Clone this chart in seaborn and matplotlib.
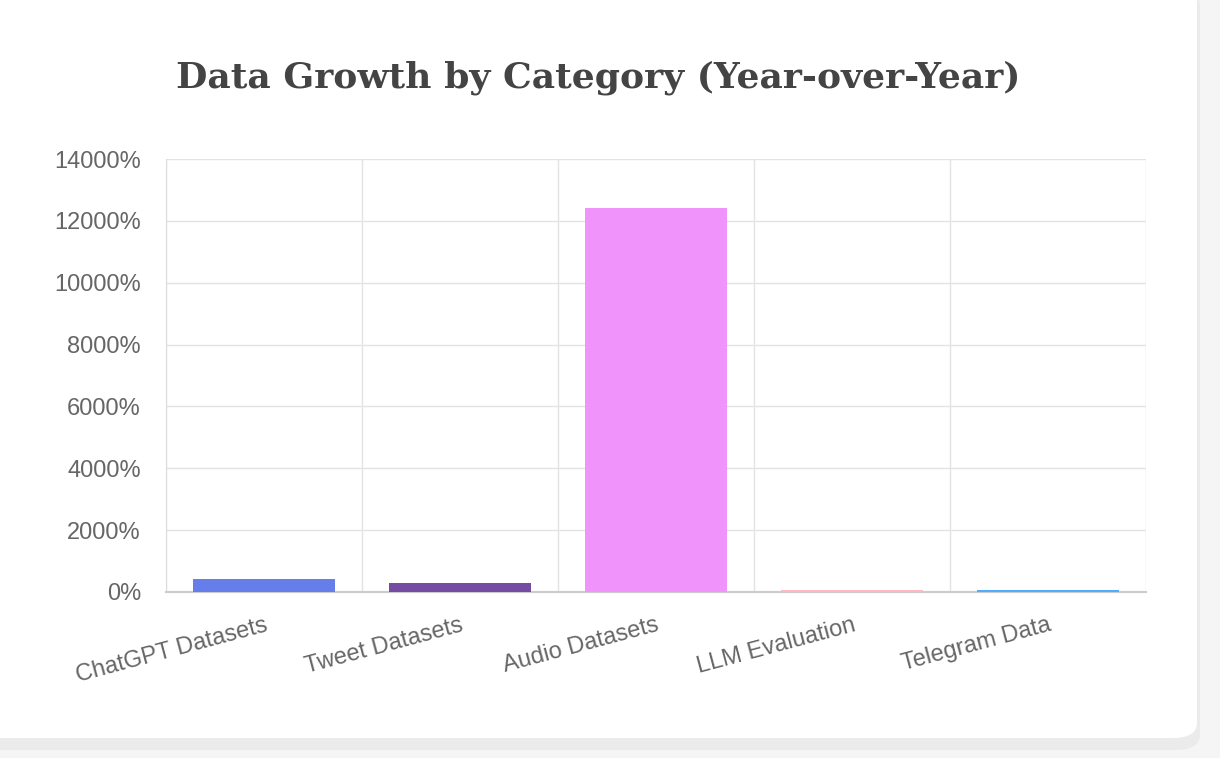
import numpy as np
import pandas as pd
import seaborn as sns
import matplotlib.pyplot as plt
from matplotlib.patches import FancyBboxPatch
from matplotlib.ticker import FuncFormatter, FixedLocator

# Data
categories = ['ChatGPT Datasets', 'Tweet Datasets', 'Audio Datasets', 'LLM Evaluation', 'Telegram Data']
growth = [420, 280, 12400, 75, 70]
colors = ['#667eea', '#764ba2', '#f093fb', '#ffb8c0', '#4facfe']
y_ticks = [0, 2000, 4000, 6000, 8000, 10000, 12000, 14000]

df = pd.DataFrame({'category': categories, 'growth': growth})

sns.set_style("white")
plt.rcParams['font.family'] = ['Liberation Sans', 'DejaVu Sans']

fig = plt.figure(figsize=(12.2, 7.58), dpi=100)
fig.patch.set_facecolor('#f5f5f5')

# card background with shadow
shadow = FancyBboxPatch((-30 / 1220, 8 / 758), (1230 / 1220), 760 / 758,
                        boxstyle="round,pad=0,rounding_size=0.02",
                        transform=fig.transFigure, facecolor='#ebebeb',
                        edgecolor='none', zorder=0)
card = FancyBboxPatch((-30 / 1220, 20 / 758), (1227 / 1220), 760 / 758,
                      boxstyle="round,pad=0,rounding_size=0.02",
                      transform=fig.transFigure, facecolor='white',
                      edgecolor='none', zorder=1)
fig.patches.extend([shadow, card])

ax = fig.add_axes([166 / 1220, 166 / 758, 980 / 1220, 433 / 758])
ax.set_facecolor('none')
ax.set_zorder(2)

sns.barplot(data=df, x='category', y='growth', hue='category', palette=colors,
            width=0.72, legend=False, ax=ax, saturation=1, zorder=4,
            linewidth=0)

ax.set_xlim(-0.5, 4.5)
ax.set_ylim(0, 14000)
ax.yaxis.set_major_locator(FixedLocator(y_ticks))
ax.yaxis.set_major_formatter(FuncFormatter(lambda v, p: f'{int(v)}%'))

# grid on category boundaries like chart.js
ax.xaxis.set_minor_locator(FixedLocator(np.arange(-0.5, 5, 1)))
ax.grid(True, axis='y', which='major', color='#e3e3e3', linewidth=1, zorder=0)
ax.grid(True, axis='x', which='minor', color='#e3e3e3', linewidth=1, zorder=0)
ax.tick_params(axis='x', which='major', length=0, pad=16)
ax.tick_params(axis='x', which='minor', length=11, color='#e3e3e3', width=1)
ax.tick_params(axis='y', length=11, color='#e3e3e3', width=1, pad=7)

ax.set_xticks(range(len(categories)))
ax.set_xticklabels(categories, rotation=15, ha='right', rotation_mode='anchor',
                   fontsize=17, color='#666666')
for lbl in ax.get_yticklabels():
    lbl.set_fontsize(17)
    lbl.set_color('#666666')

for side in ['top', 'right']:
    ax.spines[side].set_visible(False)
ax.spines['left'].set_color('#dddddd')
ax.spines['bottom'].set_color('#cccccc')
ax.spines['bottom'].set_linewidth(1.5)
ax.spines['bottom'].set_zorder(3)

ax.set_xlabel('')
ax.set_ylabel('')

fig.text(598 / 1220, 1 - 78 / 758, 'Data Growth by Category (Year-over-Year)',
         ha='center', va='center', fontsize=26, fontweight='bold',
         color='#444444', family=['DejaVu Serif'], zorder=5)

plt.savefig('out.png', dpi=100)
